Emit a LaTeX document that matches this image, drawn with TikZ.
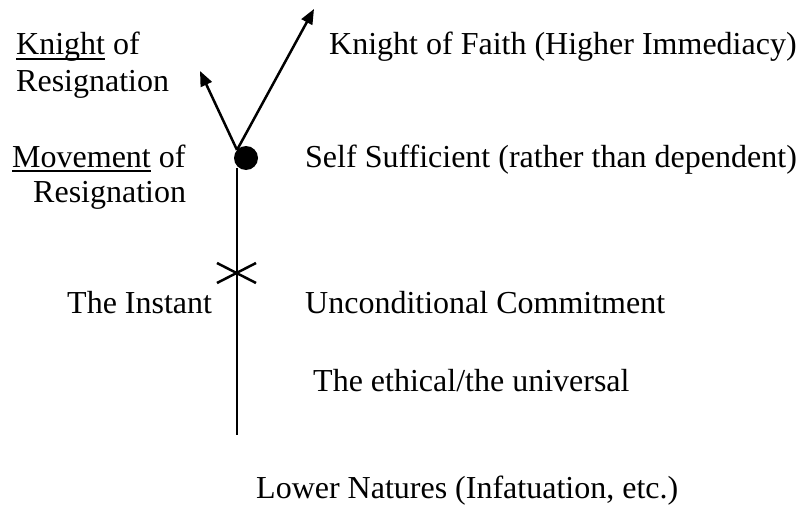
\documentclass[tikz,border=0pt]{standalone}
\usepackage{fontspec}
\setmainfont{Liberation Serif}
\usetikzlibrary{arrows.meta}
\newcommand\myul[1]{\setbox0\hbox{#1}\rlap{\rule[-5pt]{\wd0}{1.6pt}}\box0\relax}
\tikzset{
  lbl/.style={anchor=base west, inner sep=0pt, font=\fontsize{32}{36}\selectfont},
  ln/.style={line width=2.5pt},
  arr/.style={ln, -{Triangle[length=15pt,width=12pt]}},
}
\begin{document}
\begin{tikzpicture}[x=1pt,y=-1pt]
\useasboundingbox (0,0) rectangle (797,508);
% text
\node[lbl] (kr1) at (16,55) {\myul{Knight} of};
\node[lbl] (kr2) at (16,92) {Resignation};
\node[lbl] (mr1) at (12,167) {\myul{Movement} of};
\node[lbl] (mr2) at (33,202) {Resignation};
\node[lbl] (kf) at (329,55) {Knight of Faith (Higher Immediacy)};
\node[lbl] (ss) at (305,167) {Self Sufficient (rather than dependent)};
\node[lbl] (ti) at (67,313) {The Instant};
\node[lbl] (uc) at (305,313) {Unconditional Commitment};
\node[lbl] (eu) at (313,391) {The ethical/the universal};
\node[lbl] (ln) at (256,498) {Lower Natures (Infatuation, etc.)};
% structure
\node[circle, fill=black, inner sep=0pt, minimum size=24pt] (dot) at (246,158) {};
\coordinate (fork) at (237,150);
\coordinate (tipL) at (200,71);
\coordinate (tipR) at (314,9);
\coordinate (top) at (237,168);
\coordinate (bot) at (237,435);
\coordinate (x1) at (217,263);
\coordinate (x2) at (256,283);
\coordinate (x3) at (217,283);
\coordinate (x4) at (256,263);
\draw[arr] (fork) -- (tipL);
\draw[arr] (fork) -- (tipR);
\draw[ln] (top) -- (bot);
\draw[ln] (x1) -- (x2);
\draw[ln] (x3) -- (x4);
\end{tikzpicture}
\end{document}
